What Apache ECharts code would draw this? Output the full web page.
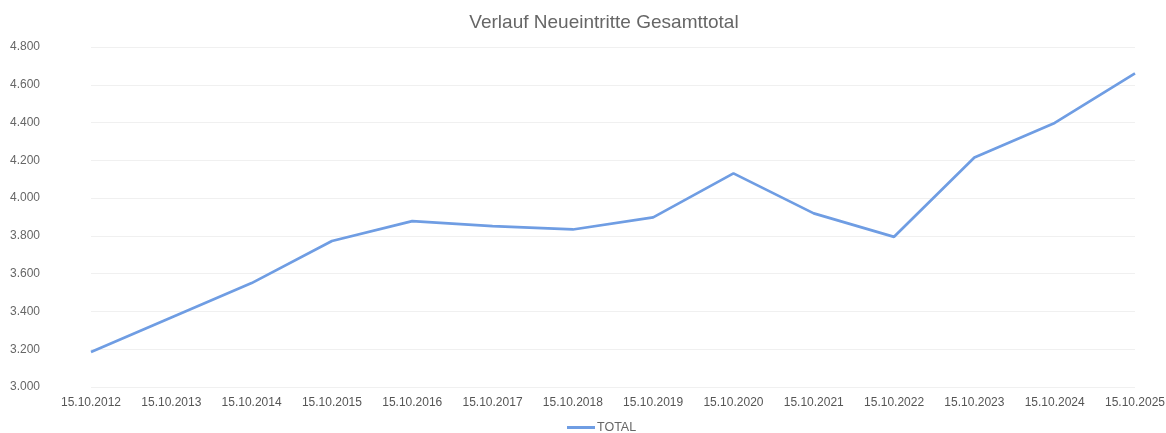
<!DOCTYPE html>
<html>
<head>
<meta charset="utf-8">
<script src="https://cdn.jsdelivr.net/npm/echarts@6/dist/echarts.min.js"></script>
<style>html,body{margin:0;padding:0;background:#fff}#c{width:1166px;height:433px}</style>
</head>
<body>
<div id="c"></div>
<script>
const categories = ['15.10.2012','15.10.2013','15.10.2014','15.10.2015','15.10.2016','15.10.2017','15.10.2018','15.10.2019','15.10.2020','15.10.2021','15.10.2022','15.10.2023','15.10.2024','15.10.2025'];
const totalValues = [3185, 3368, 3550, 3773, 3878, 3852, 3834, 3898, 4131, 3919, 3795, 4215, 4398, 4660];
const seriesName = 'TOTAL';
const titleText = 'Verlauf Neueintritte Gesamttotal';

const chart = echarts.init(document.getElementById('c'));
chart.setOption({
  animation: false,
  title: {
    text: titleText,
    left: 599, top: 8, textAlign: 'center',
    textStyle: {fontFamily: 'Liberation Sans', fontSize: 19, fontWeight: 'normal', color: '#666'}
  },
  legend: {
    data: [seriesName], bottom: -6, left: 562,
    itemWidth: 28, itemHeight: 3, itemGap: 2,
    icon: 'rect',
    textStyle: {fontFamily: 'Liberation Sans', fontSize: 12.5, color: '#666', padding: [0,0,0,-3]}
  },
  grid: {left: 91, right: 31, top: 47, bottom: 46, outerBoundsMode: 'none'},
  xAxis: {
    type: 'category', data: categories, boundaryGap: false,
    axisLine: {show: false}, axisTick: {show: false},
    axisLabel: {fontFamily: 'Liberation Sans', fontSize: 12, color: '#555', margin: 10}
  },
  yAxis: {
    type: 'value', min: 3000, max: 4800, interval: 200,
    axisLine: {show: false}, axisTick: {show: false},
    splitLine: {lineStyle: {color: '#f0f0f0', width: 1}},
    axisLabel: {
      fontFamily: 'Liberation Sans', fontSize: 12, color: '#666', margin: 51,
      formatter: v => v.toLocaleString('de-DE')
    }
  },
  series: [{
    name: seriesName, type: 'line', data: totalValues,
    symbol: 'none', smooth: false,
    lineStyle: {color: '#6f9de3', width: 2.7},
    itemStyle: {color: '#6f9de3'}
  }]
});
</script>
</body>
</html>
